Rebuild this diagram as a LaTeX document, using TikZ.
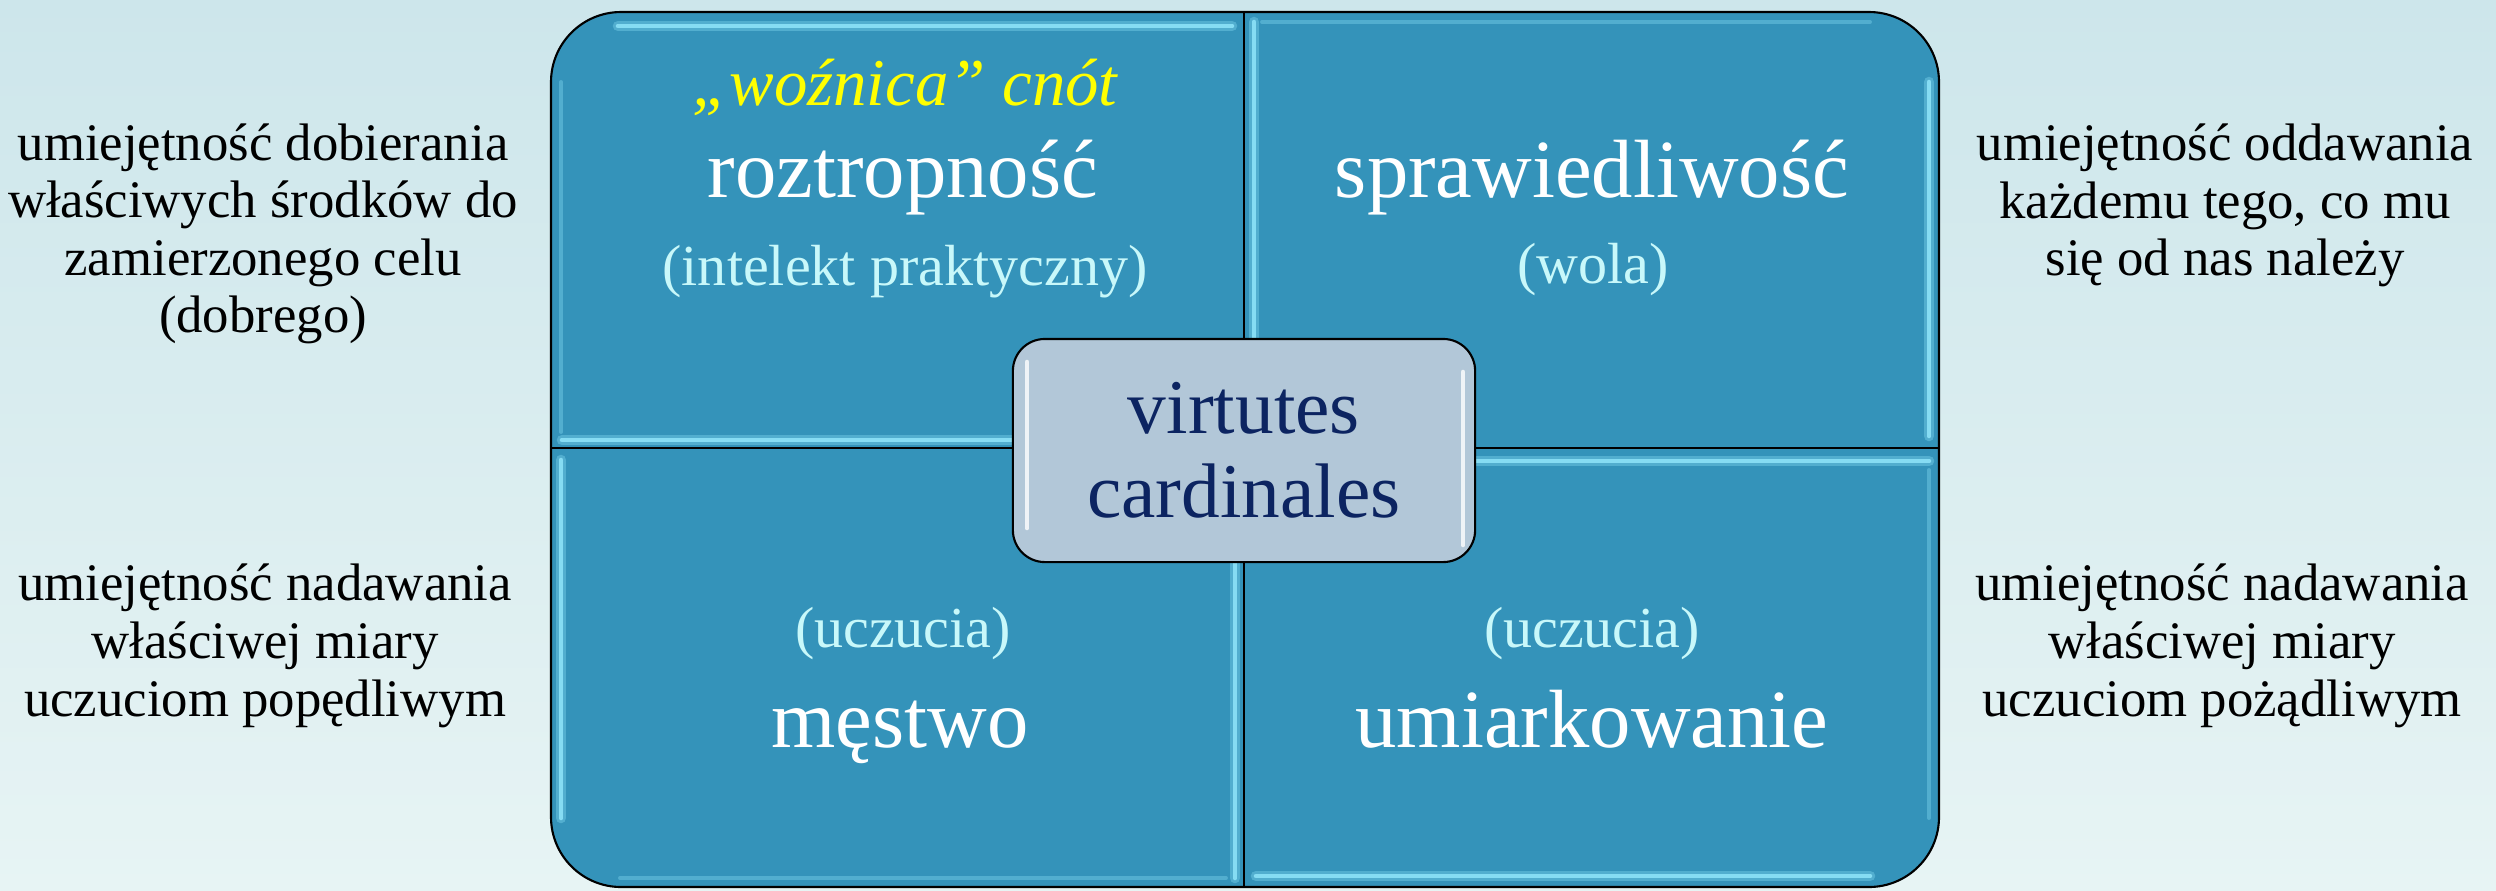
\documentclass[tikz,border=0pt]{standalone}
\usepackage{fontspec}
\setmainfont{Liberation Serif}
\definecolor{quadcol}{RGB}{52,147,186}
\definecolor{hlcol}{RGB}{140,225,248}
\definecolor{cboxcol}{RGB}{178,199,216}
\definecolor{navycol}{RGB}{12,36,97}
\definecolor{parencol}{RGB}{200,248,250}
\definecolor{bgtop}{RGB}{205,230,235}
\definecolor{bgbot}{RGB}{231,244,244}
\definecolor{yellowcol}{RGB}{255,255,0}
\tikzset{
  sidetext/.style={anchor=base, inner sep=0pt, text=black, font=\fontsize{15}{16.4}\selectfont},
  bigword/.style={anchor=base, inner sep=0pt, text=white, font=\fontsize{23.5}{26}\selectfont},
  parentext/.style={anchor=base, inner sep=0pt, text=parencol, font=\fontsize{16.5}{18}\selectfont},
  yellowtext/.style={anchor=base, inner sep=0pt, text=yellowcol, font=\fontsize{19}{21}\selectfont\itshape},
  hlglow/.style={draw=hlcol, line width=3pt, line cap=round, opacity=0.35},
  hlline/.style={draw=hlcol, line width=1.3pt, line cap=round, opacity=0.9},
  hlfaint/.style={draw=hlcol, line width=1.1pt, line cap=round, opacity=0.35},
  edgeline/.style={draw=black, line width=0.6pt},
  centerbox/.style={draw=black, line width=0.6pt, fill=cboxcol, rounded corners=0.32cm,
     minimum width=4.62cm, minimum height=2.23cm, inner sep=0pt, align=center,
     text=navycol, font=\fontsize{22}{23.9}\selectfont}
}
\begin{document}
\begin{tikzpicture}[x=0.01cm,y=-0.01cm]
\useasboundingbox (0,0) rectangle (2496,890);
\shade[top color=bgtop, bottom color=bgbot] (0,0) rectangle (2496,890);

% matrix of four quadrants
\draw[edgeline, fill=quadcol, rounded corners=0.7cm] (551,12) rectangle (1939,887);

% bevel highlights (soft glow + core)
\foreach \s in {hlglow,hlline}{
  % top-left
  \draw[\s] (618,26) -- (1232,26);
  \draw[\s] (562,440) -- (1232,440);
  % top-right
  \draw[\s] (1254,22) -- (1254,436);
  \draw[\s] (1929,82) -- (1929,436);
  % bottom-left
  \draw[\s] (561,460) -- (561,818);
  \draw[\s] (1235,460) -- (1235,878);
  % bottom-right
  \draw[\s] (1256,461) -- (1929,461);
  \draw[\s] (1256,876) -- (1870,876);
}
\draw[hlfaint] (561,82) -- (561,432);
\draw[hlfaint] (1262,22) -- (1870,22);
\draw[hlfaint] (620,878) -- (1226,878);
\draw[hlfaint] (1929,470) -- (1929,818);

% dividers
\draw[edgeline] (1244,12) -- (1244,887);
\draw[edgeline] (551,448) -- (1939,448);

% centre box
\node[centerbox] (ctr) at (1244,450.5) {virtutes\\cardinales};
\draw[draw=white, line width=1.3pt, line cap=round, opacity=0.8] (1027,362) -- (1027,528);
\draw[draw=white, line width=1.3pt, line cap=round, opacity=0.8] (1463,372) -- (1463,545);

% top-left quadrant
\node[yellowtext] (wozn) at (905,105) {„woźnica” cnót};
\node[bigword] (roztr) at (903,197) {roztropność};
\node[parentext] (intel) at (905,285) {(intelekt praktyczny)};
% top-right quadrant
\node[bigword] (spraw) at (1592,197) {sprawiedliwość};
\node[parentext] (wola) at (1593,283) {(wola)};
% bottom-left quadrant
\node[parentext] (uczL) at (903,647) {(uczucia)};
\node[bigword] (mestwo) at (900,747) {męstwo};
% bottom-right quadrant
\node[parentext] (uczR) at (1592,647) {(uczucia)};
\node[bigword] (umiar) at (1592,747) {umiarkowanie};

% left side texts
\node[sidetext] (lt1) at (263,160) {umiejętność dobierania};
\node[sidetext] (lt2) at (263,217.5) {właściwych środków do};
\node[sidetext] (lt3) at (263,275) {zamierzonego celu};
\node[sidetext] (lt4) at (263,332.5) {(dobrego)};
\node[sidetext] (lb1) at (265,600) {umiejętność nadawania};
\node[sidetext] (lb2) at (265,658) {właściwej miary};
\node[sidetext] (lb3) at (265,716) {uczuciom popędliwym};

% right side texts
\node[sidetext] (rt1) at (2225,160) {umiejętność oddawania};
\node[sidetext] (rt2) at (2225,218) {każdemu tego, co mu};
\node[sidetext] (rt3) at (2225,275) {się od nas należy};
\node[sidetext] (rb1) at (2222,600) {umiejętność nadawania};
\node[sidetext] (rb2) at (2222,658) {właściwej miary};
\node[sidetext] (rb3) at (2222,716) {uczuciom pożądliwym};
\end{tikzpicture}
\end{document}
